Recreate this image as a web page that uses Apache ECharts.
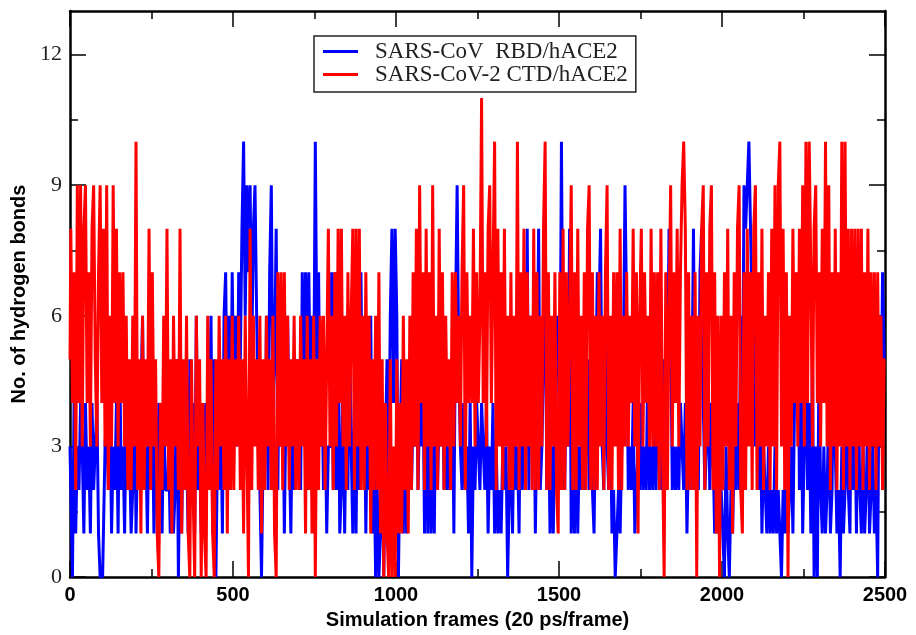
<!DOCTYPE html>
<html>
<head>
<meta charset="utf-8">
<script src="https://cdn.jsdelivr.net/npm/echarts@6/dist/echarts.min.js"></script>
<style>
  html, body { margin: 0; padding: 0; background: #fff; }
  #chart { width: 916px; height: 635px; }
</style>
</head>
<body>
<div id="chart"></div>
<script>
// one value every 5 frames, one row = 100 frames
var frameStep = 5;
var frameMax = 2500;
var yTicks = [0, 3, 6, 9, 12];
var yMinorTicks = [1.5, 4.5, 7.5, 10.5];

// SARS-CoV RBD/hACE2 (blue)
var rbdRows = [
  [3,2,0,4,1,3,2,4,3,1,4,2,3,1,4,2,3,4,1,0],
  [0,1,3,4,2,4,1,3,2,4,1,5,2,3,1,4,2,3,1,2],
  [6,1,3,2,4,6,2,3,1,4,2,4,1,3,2,4,3,1,4,2],
  [2,3,1,4,1,2,5,0,3,1,4,2,3,1,5,2,4,1,6,2],
  [3,1,4,2,4,2,3,6,1,5,0,3,2,4,1,6,7,3,6,2],
  [7,4,6,3,7,5,8,10,6,9,7,9,5,8,9,6,4,2,0,3],
  [3,6,2,7,9,4,5,8,2,6,3,5,1,4,6,3,1,4,2,5],
  [3,5,2,7,4,7,5,7,4,6,4,10,5,7,3,5,2,4,1,3],
  [3,7,2,7,2,6,1,2,5,1,4,2,6,3,1,4,1,5,2,7],
  [3,5,1,4,2,6,1,3,0,2,0,1,4,0,3,5,2,6,8,4],
  [8,6,0,3,5,1,4,1,3,5,2,4,3,6,2,4,3,5,1,6],
  [1,4,1,3,1,5,2,4,3,5,2,4,2,3,2,5,1,6,9,5],
  [3,2,4,2,3,1,4,0,3,2,4,3,2,4,3,2,4,1,3,2],
  [4,1,3,1,2,1,3,2,3,0,2,3,1,4,2,3,1,5,2,4],
  [3,8,2,6,3,5,1,4,8,2,3,5,8,2,4,1,3,1,4,6],
  [5,3,10,4,2,5,3,8,1,3,1,4,1,3,2,4,2,3,5,2],
  [3,2,1,4,7,6,8,3,2,6,3,2,4,1,2,0,1,2,1,3],
  [5,9,6,2,3,2,4,1,2,3,2,4,2,3,2,5,2,3,2,4],
  [2,4,3,2,5,3,2,4,8,6,2,3,2,3,2,4,3,2,4,1],
  [3,2,4,8,3,5,2,7,8,4,2,3,5,2,4,3,1,2,1,3],
  [2,1,0,3,1,0,2,1,3,2,4,2,6,3,9,8,9,10,8,6],
  [7,3,6,2,4,1,3,2,1,3,1,2,1,3,1,2,1,0,2,1],
  [5,1,2,3,1,4,5,7,2,5,1,3,5,2,4,1,5,0,3,0],
  [5,2,1,3,1,2,4,1,2,5,3,1,2,0,3,1,2,4,2,1],
  [5,2,4,1,5,2,1,3,1,2,4,1,2,3,1,2,0,6,3,7]
];
var rbdLast = 5;

// SARS-CoV-2 CTD/hACE2 (red)
var ctdRows = [
  [5,8,4,7,2,9,4,9,3,8,9,4,7,3,8,9,5,3,7,9],
  [4,8,3,9,2,6,3,9,4,8,3,7,4,7,3,6,2,5,2,6],
  [3,10,2,5,1,6,2,5,3,8,2,7,3,5,1,0,4,2,6,3],
  [8,2,5,1,6,3,5,2,8,1,5,2,6,1,0,5,2,0,6,3],
  [5,0,4,1,0,6,2,5,1,0,5,2,6,3,5,2,6,1,5,2],
  [6,2,5,3,6,2,5,1,6,3,0,8,2,6,3,5,2,6,1,5],
  [2,6,3,5,2,6,1,0,7,3,7,2,7,3,6,2,5,3,6,2],
  [5,2,6,3,5,1,6,2,5,1,6,0,5,2,6,3,6,2,5,8],
  [3,6,2,7,3,8,4,8,3,6,2,7,3,6,8,2,8,3,8,2],
  [6,2,7,3,6,1,5,2,6,2,7,1,5,0,4,1,0,5,0,3],
  [0,5,1,4,1,6,2,5,1,6,2,7,3,8,2,9,4,7,2,8],
  [3,7,2,9,3,6,2,8,3,7,2,6,3,5,2,7,3,7,4,6],
  [3,7,9,2,7,4,6,4,8,3,7,4,6,11,4,7,3,8,9,4],
  [7,10,2,8,3,7,2,8,3,6,2,7,2,6,3,10,2,7,3,8],
  [2,7,3,6,2,8,2,7,2,6,3,8,10,2,7,2,6,3,7,2],
  [1,7,2,8,2,7,3,6,9,2,7,2,8,3,6,2,7,2,8,9],
  [2,7,2,6,2,7,3,6,2,7,9,2,6,2,7,3,7,2,8,2],
  [6,3,7,3,6,4,8,3,7,1,6,8,3,7,4,6,3,8,3,7],
  [3,7,2,8,3,0,7,2,6,9,3,7,4,8,3,7,9,10,8,2],
  [7,2,6,2,7,0,6,3,8,9,2,7,3,8,9,2,7,1,6,0],
  [6,2,7,3,8,2,6,1,7,3,8,9,2,1,7,2,8,3,7,2],
  [8,9,2,7,3,8,2,6,3,7,2,8,3,9,2,9,10,3,8,2],
  [7,0,6,3,8,4,7,3,8,4,9,3,10,4,10,7,3,8,9,4],
  [7,3,8,4,10,3,9,2,7,3,8,2,7,3,10,2,10,3,8,2],
  [8,3,8,2,8,3,8,2,7,3,8,2,7,3,7,2,7,3,6,2]
];
var ctdLast = 5;

function toPairs(rows, last) {
  var vals = [].concat.apply([], rows).concat([last]);
  return vals.map(function (v, i) { return [i * frameStep, v]; });
}

var chart = echarts.init(document.getElementById('chart'), null, { renderer: 'canvas' });

var black = '#000';
var tickStyle = { color: black, width: 1.5 };
var lineAxis = { show: true, onZero: false, lineStyle: { color: black, width: 2.5 } };

function xAx(pos, showLabel) {
  return {
    type: 'value', position: pos, min: 0, max: frameMax, interval: 500,
    axisLine: lineAxis,
    axisTick: { inside: true, length: 16, lineStyle: tickStyle },
    minorTick: { show: true, splitNumber: 2, length: 8, lineStyle: tickStyle },
    splitLine: { show: false },
    axisLabel: {
      show: showLabel, margin: 8, color: black,
      fontFamily: 'Liberation Sans', fontWeight: 'bold', fontSize: 20,
      formatter: function (v) { return String(v); }
    }
  };
}

function yAx(pos, values, len, showLine, showLabel) {
  return {
    type: 'value', position: pos, min: 0, max: 13,
    axisLine: showLine ? lineAxis : { show: false, onZero: false },
    axisTick: { inside: true, length: len, customValues: values, lineStyle: tickStyle },
    splitLine: { show: false },
    axisLabel: {
      show: showLabel, customValues: values, margin: 8, color: '#222',
      fontFamily: 'Liberation Serif', fontSize: 22
    }
  };
}

var xBottom = xAx('bottom', true);
xBottom.name = 'Simulation frames (20 ps/frame)';
xBottom.nameLocation = 'middle';
xBottom.nameGap = 29;
xBottom.nameTextStyle = { fontFamily: 'Liberation Sans', fontWeight: 'bold', fontSize: 20, color: black };

var yLeft = yAx('left', yTicks, 16, true, true);
yLeft.name = 'No. of hydrogen bonds';
yLeft.nameLocation = 'middle';
yLeft.nameGap = 37;
yLeft.nameTextStyle = { fontFamily: 'Liberation Sans', fontWeight: 'bold', fontSize: 20, color: black };

var option = {
  animation: false,
  backgroundColor: '#fff',
  grid: { left: 70, right: 31, top: 11, bottom: 52 },
  legend: {
    orient: 'vertical', left: 314, top: 36,
    icon: 'rect', itemWidth: 35, itemHeight: 3, itemGap: 0,
    padding: [4, 8, 6, 9],
    borderColor: '#222', borderWidth: 1.5, backgroundColor: '#fff',
    textStyle: {
      fontFamily: 'Liberation Serif', fontSize: 23, lineHeight: 23,
      color: '#222', padding: [0, 0, 0, 12]
    },
    data: ['SARS-CoV  RBD/hACE2', 'SARS-CoV-2 CTD/hACE2']
  },
  xAxis: [xBottom, xAx('top', false)],
  yAxis: [
    yLeft,
    yAx('left', yMinorTicks, 8, false, false),
    yAx('right', yTicks, 16, true, false),
    yAx('right', yMinorTicks, 8, false, false)
  ],
  series: [
    {
      name: 'SARS-CoV  RBD/hACE2', type: 'line', step: 'middle',
      symbol: 'none', showSymbol: false,
      color: '#0000ff',
      lineStyle: { color: '#0000ff', width: 3 },
      data: toPairs(rbdRows, rbdLast)
    },
    {
      name: 'SARS-CoV-2 CTD/hACE2', type: 'line', step: 'middle',
      symbol: 'none', showSymbol: false,
      color: '#ff0000',
      lineStyle: { color: '#ff0000', width: 3 },
      data: toPairs(ctdRows, ctdLast)
    }
  ]
};

chart.setOption(option);
</script>
</body>
</html>
